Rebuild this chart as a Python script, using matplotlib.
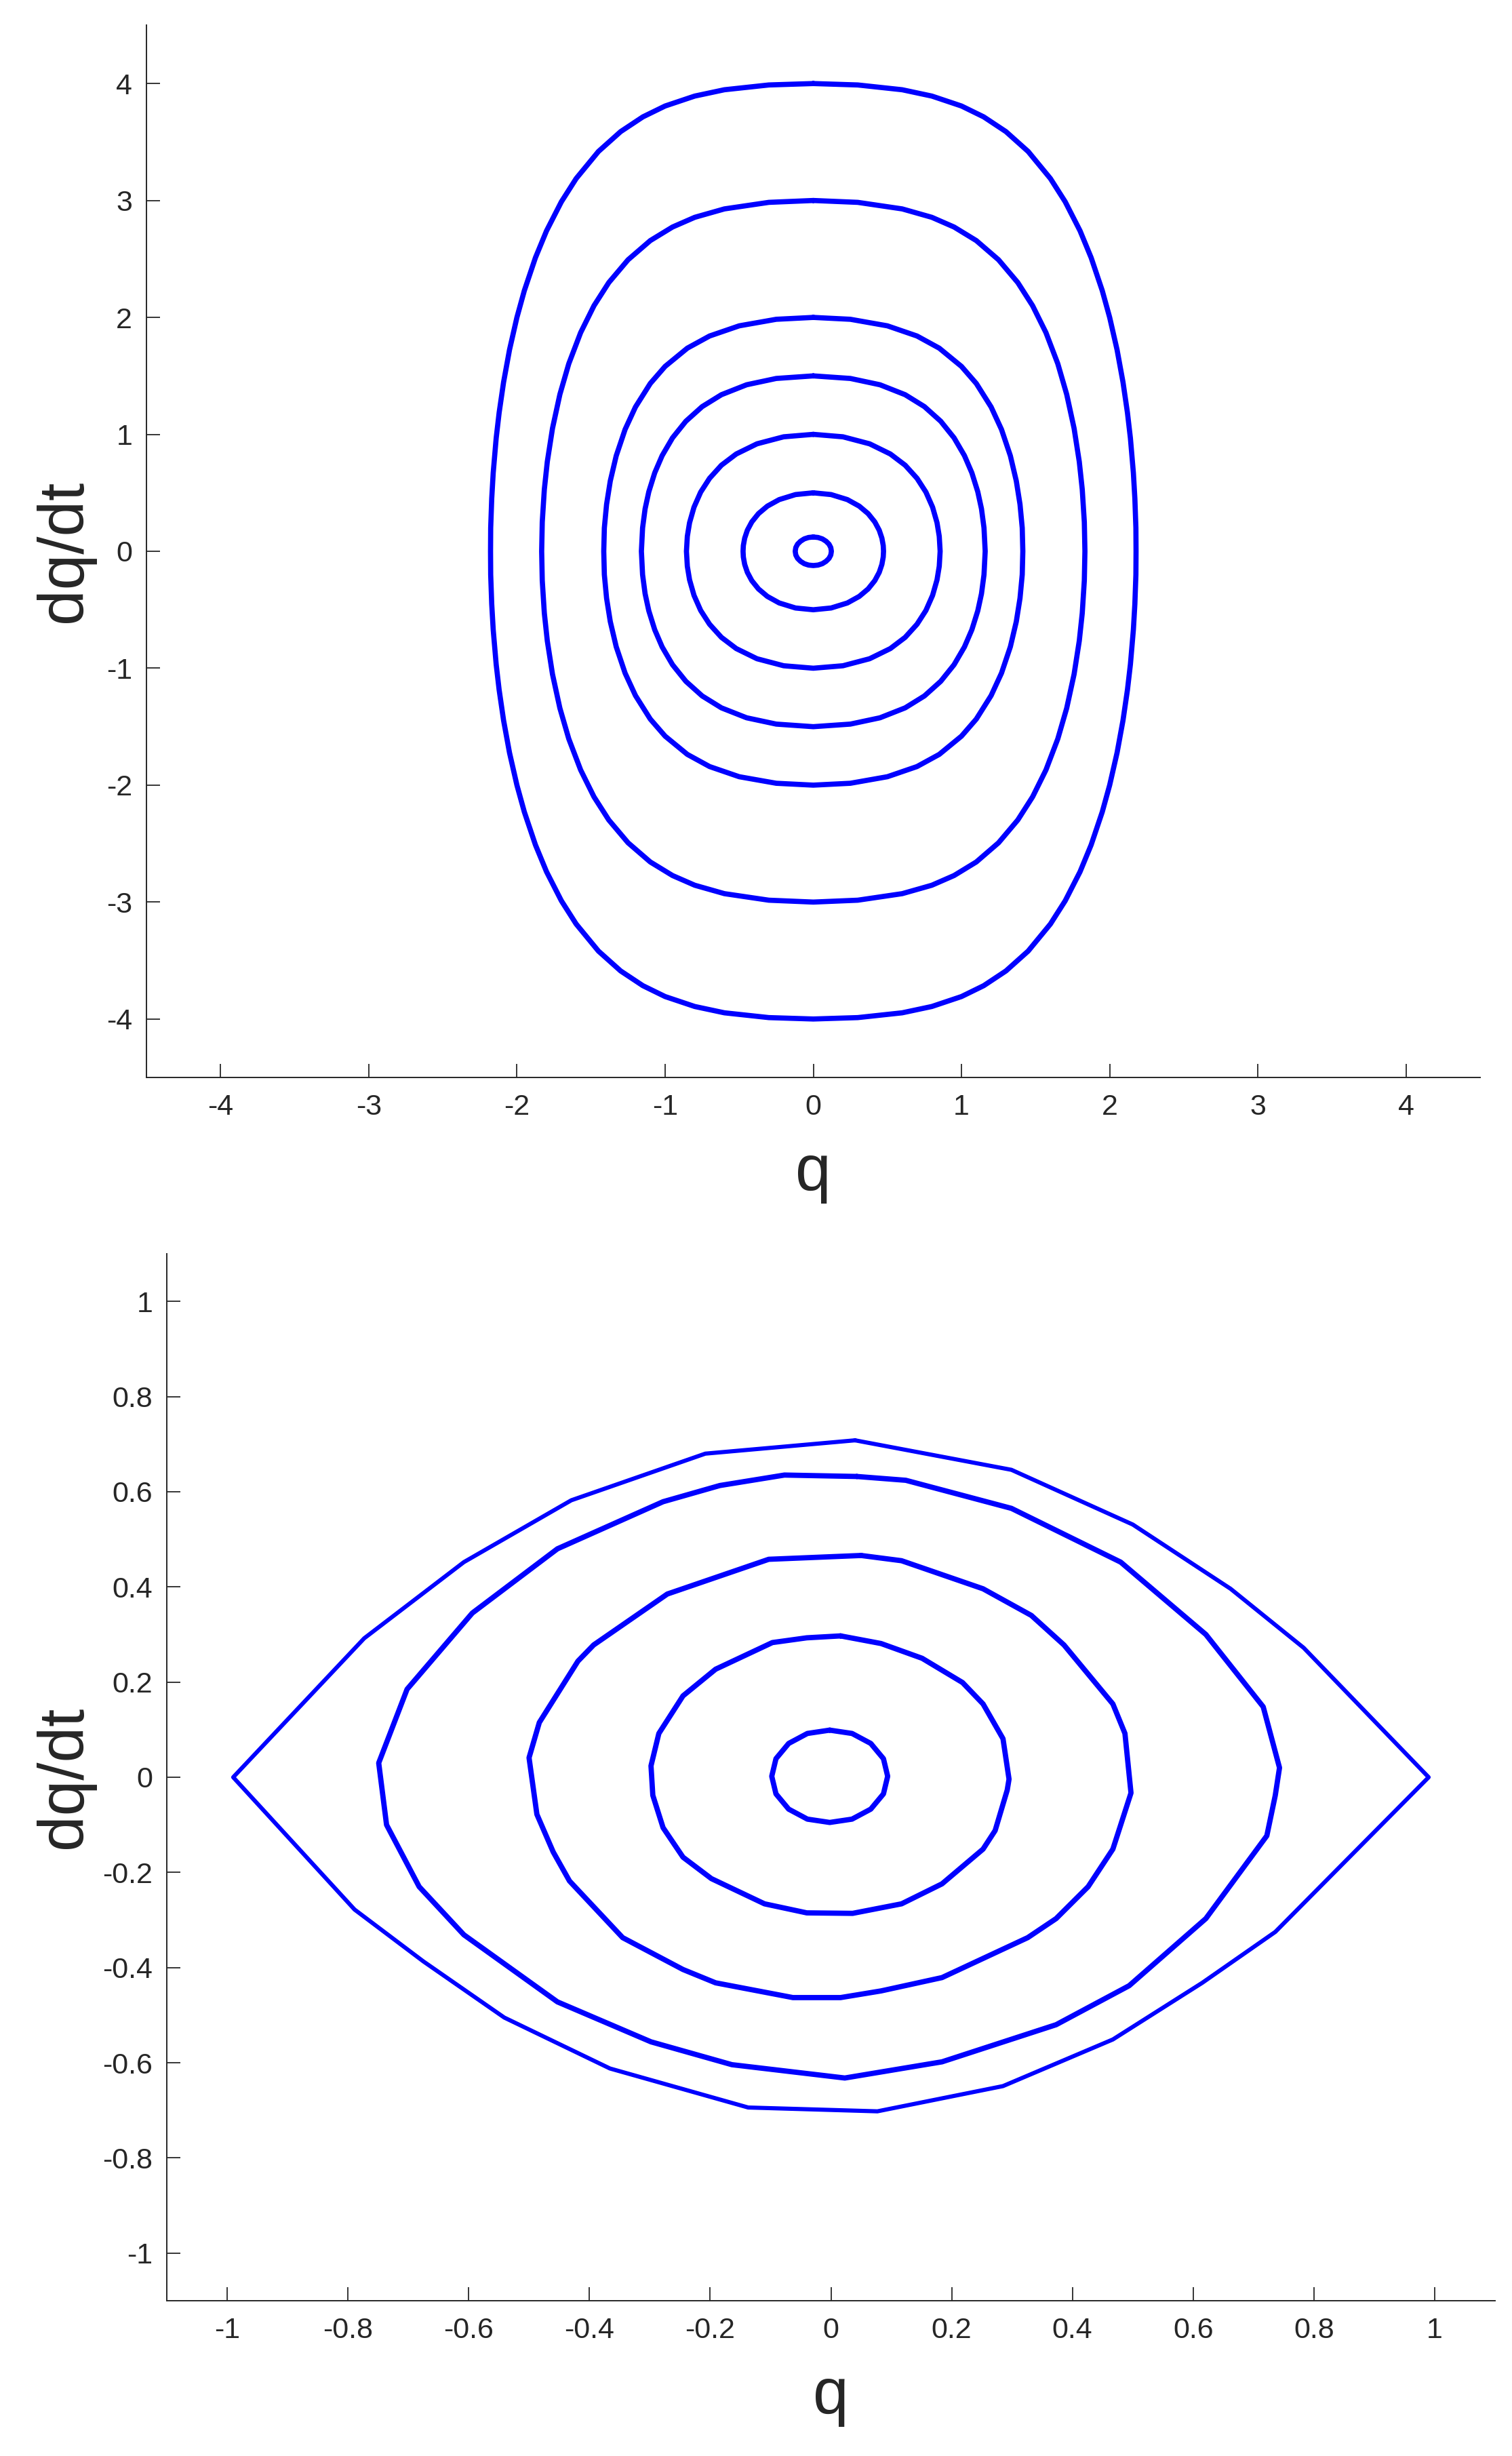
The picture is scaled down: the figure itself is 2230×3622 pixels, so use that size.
import matplotlib.pyplot as plt

plt.rcParams['font.family'] = ['Liberation Sans', 'DejaVu Sans']

BLUE = (0, 0, 1)
INK = '#262626'

# ---- top panel: closed orbits, (q, dq/dt) read around each loop ----
orbit_p4 = [(0, 4.0), (0.3, 3.988), (0.6, 3.947), (0.8, 3.893), (1.0, 3.808), (1.15, 3.715),
            (1.3, 3.589), (1.45, 3.419), (1.6, 3.188), (1.7, 2.989), (1.8, 2.741), (1.875, 2.511),
            (1.95, 2.229), (2.0, 2.0), (2.05, 1.723), (2.09, 1.446), (2.12, 1.185), (2.14, 0.967),
            (2.16, 0.671), (2.17, 0.452), (2.177, 0.2), (2.178, 0),
            (2.177, -0.2), (2.17, -0.452), (2.16, -0.671), (2.14, -0.967), (2.12, -1.185),
            (2.09, -1.446), (2.05, -1.723), (2.0, -2.0), (1.95, -2.229), (1.875, -2.511),
            (1.8, -2.741), (1.7, -2.989), (1.6, -3.188), (1.45, -3.419), (1.3, -3.589),
            (1.15, -3.715), (1.0, -3.808), (0.8, -3.893), (0.6, -3.947), (0.3, -3.988), (0, -4.0),
            (-0.3, -3.988), (-0.6, -3.947), (-0.8, -3.893), (-1.0, -3.808), (-1.15, -3.715),
            (-1.3, -3.589), (-1.45, -3.419), (-1.6, -3.188), (-1.7, -2.989), (-1.8, -2.741),
            (-1.875, -2.511), (-1.95, -2.229), (-2.0, -2.0), (-2.05, -1.723), (-2.09, -1.446),
            (-2.12, -1.185), (-2.14, -0.967), (-2.16, -0.671), (-2.17, -0.452), (-2.177, -0.2),
            (-2.178, 0),
            (-2.177, 0.2), (-2.17, 0.452), (-2.16, 0.671), (-2.14, 0.967), (-2.12, 1.185),
            (-2.09, 1.446), (-2.05, 1.723), (-2.0, 2.0), (-1.95, 2.229), (-1.875, 2.511),
            (-1.8, 2.741), (-1.7, 2.989), (-1.6, 3.188), (-1.45, 3.419), (-1.3, 3.589),
            (-1.15, 3.715), (-1.0, 3.808), (-0.8, 3.893), (-0.6, 3.947), (-0.3, 3.988), (0, 4.0)]

orbit_p3 = [(0, 3.0), (0.3, 2.984), (0.6, 2.928), (0.8, 2.856), (0.95, 2.773), (1.1, 2.657),
            (1.25, 2.493), (1.38, 2.298), (1.48, 2.1), (1.57, 1.87), (1.65, 1.604), (1.71, 1.342),
            (1.76, 1.051), (1.795, 0.766), (1.815, 0.529), (1.829, 0.25), (1.833, 0),
            (1.829, -0.25), (1.815, -0.529), (1.795, -0.766), (1.76, -1.051), (1.71, -1.342),
            (1.65, -1.604), (1.57, -1.87), (1.48, -2.1), (1.38, -2.298), (1.25, -2.493),
            (1.1, -2.657), (0.95, -2.773), (0.8, -2.856), (0.6, -2.928), (0.3, -2.984), (0, -3.0),
            (-0.3, -2.984), (-0.6, -2.928), (-0.8, -2.856), (-0.95, -2.773), (-1.1, -2.657),
            (-1.25, -2.493), (-1.38, -2.298), (-1.48, -2.1), (-1.57, -1.87), (-1.65, -1.604),
            (-1.71, -1.342), (-1.76, -1.051), (-1.795, -0.766), (-1.815, -0.529), (-1.829, -0.25),
            (-1.833, 0),
            (-1.829, 0.25), (-1.815, 0.529), (-1.795, 0.766), (-1.76, 1.051), (-1.71, 1.342),
            (-1.65, 1.604), (-1.57, 1.87), (-1.48, 2.1), (-1.38, 2.298), (-1.25, 2.493),
            (-1.1, 2.657), (-0.95, 2.773), (-0.8, 2.856), (-0.6, 2.928), (-0.3, 2.984), (0, 3.0)]

orbit_p2 = [(0, 2.0), (0.25, 1.984), (0.5, 1.928), (0.7, 1.841), (0.85, 1.737), (1.0, 1.581),
            (1.1, 1.435), (1.2, 1.234), (1.27, 1.042), (1.33, 0.816), (1.37, 0.601),
            (1.395, 0.401), (1.41, 0.2), (1.414, 0),
            (1.41, -0.2), (1.395, -0.401), (1.37, -0.601), (1.33, -0.816), (1.27, -1.042),
            (1.2, -1.234), (1.1, -1.435), (1.0, -1.581), (0.85, -1.737), (0.7, -1.841),
            (0.5, -1.928), (0.25, -1.984), (0, -2.0),
            (-0.25, -1.984), (-0.5, -1.928), (-0.7, -1.841), (-0.85, -1.737), (-1.0, -1.581),
            (-1.1, -1.435), (-1.2, -1.234), (-1.27, -1.042), (-1.33, -0.816), (-1.37, -0.601),
            (-1.395, -0.401), (-1.41, -0.2), (-1.414, 0),
            (-1.41, 0.2), (-1.395, 0.401), (-1.37, 0.601), (-1.33, 0.816), (-1.27, 1.042),
            (-1.2, 1.234), (-1.1, 1.435), (-1.0, 1.581), (-0.85, 1.737), (-0.7, 1.841),
            (-0.5, 1.928), (-0.25, 1.984), (0, 2.0)]

orbit_p15 = [(0, 1.5), (0.25, 1.478), (0.45, 1.424), (0.62, 1.339), (0.75, 1.237), (0.86, 1.112),
             (0.95, 0.97), (1.02, 0.818), (1.07, 0.671), (1.11, 0.509), (1.135, 0.363),
             (1.152, 0.2), (1.16, 0),
             (1.152, -0.2), (1.135, -0.363), (1.11, -0.509), (1.07, -0.671), (1.02, -0.818),
             (0.95, -0.97), (0.86, -1.112), (0.75, -1.237), (0.62, -1.339), (0.45, -1.424),
             (0.25, -1.478), (0, -1.5),
             (-0.25, -1.478), (-0.45, -1.424), (-0.62, -1.339), (-0.75, -1.237), (-0.86, -1.112),
             (-0.95, -0.97), (-1.02, -0.818), (-1.07, -0.671), (-1.11, -0.509), (-1.135, -0.363),
             (-1.152, -0.2), (-1.16, 0),
             (-1.152, 0.2), (-1.135, 0.363), (-1.11, 0.509), (-1.07, 0.671), (-1.02, 0.818),
             (-0.95, 0.97), (-0.86, 1.112), (-0.75, 1.237), (-0.62, 1.339), (-0.45, 1.424),
             (-0.25, 1.478), (0, 1.5)]

orbit_p1 = [(0, 1.0), (0.2, 0.979), (0.38, 0.919), (0.52, 0.832), (0.62, 0.736), (0.7, 0.624),
            (0.76, 0.506), (0.805, 0.377), (0.835, 0.244), (0.85, 0.128), (0.856, 0),
            (0.85, -0.128), (0.835, -0.244), (0.805, -0.377), (0.76, -0.506), (0.7, -0.624),
            (0.62, -0.736), (0.52, -0.832), (0.38, -0.919), (0.2, -0.979), (0, -1.0),
            (-0.2, -0.979), (-0.38, -0.919), (-0.52, -0.832), (-0.62, -0.736), (-0.7, -0.624),
            (-0.76, -0.506), (-0.805, -0.377), (-0.835, -0.244), (-0.85, -0.128), (-0.856, 0),
            (-0.85, 0.128), (-0.835, 0.244), (-0.805, 0.377), (-0.76, 0.506), (-0.7, 0.624),
            (-0.62, 0.736), (-0.52, 0.832), (-0.38, 0.919), (-0.2, 0.979), (0, 1.0)]

orbit_p05 = [(0, 0.5), (0.12, 0.485), (0.23, 0.442), (0.31, 0.386), (0.37, 0.322), (0.415, 0.251),
             (0.445, 0.18), (0.463, 0.112), (0.472, 0.049), (0.474, 0),
             (0.472, -0.049), (0.463, -0.112), (0.445, -0.18), (0.415, -0.251), (0.37, -0.322),
             (0.31, -0.386), (0.23, -0.442), (0.12, -0.485), (0, -0.5),
             (-0.12, -0.485), (-0.23, -0.442), (-0.31, -0.386), (-0.37, -0.322), (-0.415, -0.251),
             (-0.445, -0.18), (-0.463, -0.112), (-0.472, -0.049), (-0.474, 0),
             (-0.472, 0.049), (-0.463, 0.112), (-0.445, 0.18), (-0.415, 0.251), (-0.37, 0.322),
             (-0.31, 0.386), (-0.23, 0.442), (-0.12, 0.485), (0, 0.5)]

orbit_p012 = [(0, 0.122), (0.032, 0.118), (0.061, 0.106), (0.086, 0.086), (0.106, 0.061),
              (0.118, 0.032), (0.122, 0), (0.118, -0.032), (0.106, -0.061), (0.086, -0.086),
              (0.061, -0.106), (0.032, -0.118), (0, -0.122), (-0.032, -0.118), (-0.061, -0.106),
              (-0.086, -0.086), (-0.106, -0.061), (-0.118, -0.032), (-0.122, 0), (-0.118, 0.032),
              (-0.106, 0.061), (-0.086, 0.086), (-0.061, 0.106), (-0.032, 0.118), (0, 0.122)]

top_orbits = [orbit_p4, orbit_p3, orbit_p2, orbit_p15, orbit_p1, orbit_p05, orbit_p012]
top_ticks = [-4, -3, -2, -1, 0, 1, 2, 3, 4]
top_labels = ['-4', '-3', '-2', '-1', '0', '1', '2', '3', '4']

# ---- bottom panel: polygonal orbits (coarse time steps) ----
loop_outer = [(0.04, 0.708), (0.299, 0.646), (0.500, 0.531), (0.662, 0.396), (0.783, 0.272),
              (0.99, 0.0), (0.736, -0.325), (0.615, -0.432), (0.467, -0.551), (0.285, -0.649),
              (0.077, -0.702), (-0.137, -0.694), (-0.366, -0.612), (-0.541, -0.505),
              (-0.675, -0.387), (-0.789, -0.278), (-0.99, 0.0), (-0.773, 0.292), (-0.608, 0.452),
              (-0.430, 0.582), (-0.208, 0.680), (0.04, 0.708)]

loop_2 = [(0.043, 0.632), (0.124, 0.624), (0.299, 0.565), (0.480, 0.452), (0.621, 0.300),
          (0.716, 0.148), (0.743, 0.02), (0.736, -0.038), (0.722, -0.123), (0.621, -0.297),
          (0.494, -0.438), (0.373, -0.520), (0.184, -0.598), (0.023, -0.632), (-0.164, -0.604),
          (-0.298, -0.556), (-0.453, -0.472), (-0.608, -0.331), (-0.682, -0.230), (-0.736, -0.100),
          (-0.749, 0.030), (-0.702, 0.185), (-0.594, 0.345), (-0.453, 0.480), (-0.278, 0.579),
          (-0.184, 0.613), (-0.077, 0.635), (0.043, 0.632)]

loop_3 = [(0.050, 0.466), (0.117, 0.455), (0.252, 0.396), (0.332, 0.340), (0.386, 0.278),
          (0.467, 0.154), (0.487, 0.092), (0.497, -0.033), (0.480, -0.100), (0.467, -0.151),
          (0.426, -0.230), (0.373, -0.297), (0.326, -0.337), (0.184, -0.421), (0.083, -0.449),
          (0.016, -0.463), (-0.063, -0.463), (-0.191, -0.432), (-0.245, -0.404), (-0.345, -0.337),
          (-0.433, -0.218), (-0.460, -0.157), (-0.487, -0.078), (-0.500, 0.041), (-0.483, 0.115),
          (-0.419, 0.244), (-0.393, 0.278), (-0.271, 0.385), (-0.103, 0.458), (0.050, 0.466)]

loop_4 = [(0.016, 0.297), (0.083, 0.281), (0.151, 0.250), (0.218, 0.199), (0.252, 0.154),
          (0.285, 0.081), (0.295, -0.004), (0.292, -0.027), (0.272, -0.112), (0.252, -0.151),
          (0.184, -0.224), (0.117, -0.266), (0.036, -0.286), (-0.040, -0.285), (-0.110, -0.266),
          (-0.198, -0.213), (-0.245, -0.168), (-0.278, -0.106), (-0.295, -0.038), (-0.298, 0.024),
          (-0.285, 0.092), (-0.245, 0.171), (-0.191, 0.227), (-0.097, 0.283), (-0.040, 0.293),
          (0.016, 0.297)]

loop_5 = [(-0.002, 0.099), (0.035, 0.092), (0.066, 0.071), (0.087, 0.039), (0.094, 0.002),
          (0.087, -0.035), (0.066, -0.067), (0.035, -0.088), (-0.002, -0.095), (-0.039, -0.088),
          (-0.070, -0.067), (-0.091, -0.035), (-0.098, 0.002), (-0.091, 0.039), (-0.070, 0.071),
          (-0.039, 0.092), (-0.002, 0.099)]

bottom_orbits = [loop_outer, loop_2, loop_3, loop_4, loop_5]
bottom_ticks = [-1, -0.8, -0.6, -0.4, -0.2, 0, 0.2, 0.4, 0.6, 0.8, 1]
bottom_labels = ['-1', '-0.8', '-0.6', '-0.4', '-0.2', '0', '0.2', '0.4', '0.6', '0.8', '1']


def style(ax, lim, ticks, labels, xlab_y, ylab_x):
    ax.set_xlim(-lim, lim)
    ax.set_ylim(-lim, lim)
    ax.set_xticks(ticks)
    ax.set_xticklabels(labels)
    ax.set_yticks(ticks)
    ax.set_yticklabels(labels)
    ax.spines['top'].set_visible(False)
    ax.spines['right'].set_visible(False)
    for s in ['left', 'bottom']:
        ax.spines[s].set_linewidth(1.4)
        ax.spines[s].set_color(INK)
    ax.tick_params(direction='in', length=14.4, width=1.3, color=INK,
                   labelsize=31, labelcolor=INK)
    ax.tick_params(axis='x', pad=17)
    ax.tick_params(axis='y', pad=15)
    ax.set_xlabel('q', fontsize=68, color=INK)
    ax.xaxis.label.set_va('baseline')
    ax.xaxis.set_label_coords(0.5, xlab_y)
    ax.set_ylabel('dq/dt', fontsize=68, color=INK)
    ax.yaxis.label.set_rotation_mode('anchor')
    ax.yaxis.label.set_va('baseline')
    ax.yaxis.label.set_ha('center')
    ax.yaxis.set_label_coords(ylab_x, 0.5)


fig = plt.figure(figsize=(22.3, 36.22), dpi=100)
fig.patch.set_facecolor('white')

ax1 = fig.add_axes([216 / 2230, 1 - 1589 / 3622, 1967 / 2230, 1552 / 3622])
for orb in top_orbits:
    qs = [pt[0] for pt in orb]
    ps = [pt[1] for pt in orb]
    ax1.plot(qs, ps, color=BLUE, lw=5.5, solid_joinstyle='round', solid_capstyle='round')
style(ax1, 4.5, top_ticks, top_labels, -0.107, -0.049)

ax2 = fig.add_axes([246 / 2230, 1 - 3393 / 3622, 1959 / 2230, 1544 / 3622])
for i, orb in enumerate(bottom_orbits):
    qs = [pt[0] for pt in orb]
    ps = [pt[1] for pt in orb]
    ax2.plot(qs, ps, color=BLUE, lw=4.4 if i == 0 else 5.6,
             solid_joinstyle='round', solid_capstyle='round')
style(ax2, 1.1, bottom_ticks, bottom_labels, -0.1075, -0.0643)

fig.savefig('out.png', dpi=100)
